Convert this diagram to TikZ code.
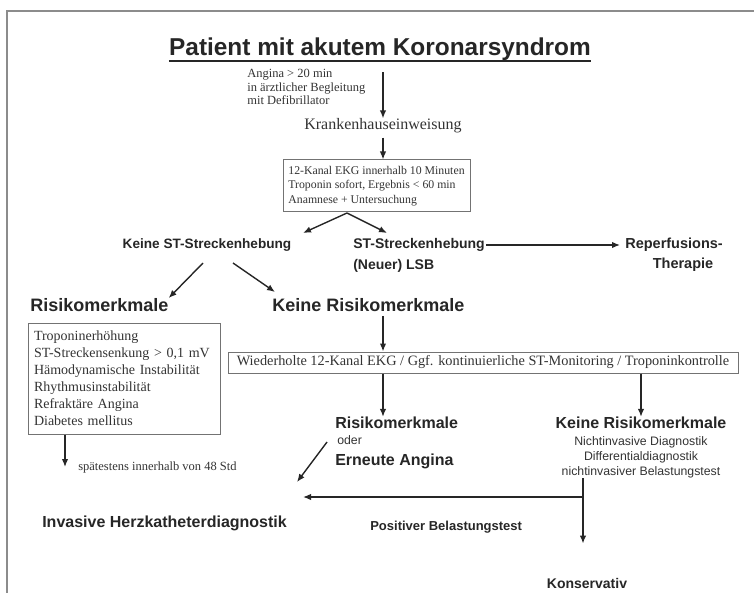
\documentclass[tikz,border=0pt]{standalone}
\usepackage{fontspec}
\setmainfont{Liberation Serif}
\setsansfont{Liberation Sans}
\usetikzlibrary{positioning, arrows.meta}

\begin{document}
\begin{tikzpicture}[x=1pt, y=-1pt, semithick,
    head/.style={font=\sffamily\bfseries\fontsize{14}{21}\selectfont, text=black!85, inner sep=0pt},
    big/.style={head, font=\sffamily\bfseries\fontsize{18}{21}\selectfont},
    mid/.style={head, font=\sffamily\bfseries\fontsize{16}{19}\selectfont},
    note/.style={font=\fontsize{12.5}{13.5}\selectfont, text=black!80, inner sep=0pt, align=left},
    small/.style={font=\sffamily\fontsize{12.3}{15}\selectfont, text=black!80, inner sep=0pt, align=center},
    infobox/.style={draw=black!55, line width=1pt, text=black!80, align=left, inner xsep=6pt},
    arr/.style={-{Latex[length=8pt, width=6.5pt]}, line width=1.4pt, black!85}]
  \useasboundingbox (0,0) rectangle (754,593);
  % frame
  \draw[black!45, line width=1.5pt] (754,11) -- (7,11) -- (7,593);

  \node[head, font=\sffamily\bfseries\fontsize{24.4}{26}\selectfont, anchor=base] (title) at (380,56) {Patient mit akutem Koronarsyndrom};
  \draw[black!85, line width=2pt] ([yshift=-5pt]title.base west) -- ([yshift=-5pt]title.base east);

  \node[note, anchor=north west] (angina) at (247,69) {Angina > 20 min\\in ärztlicher Begleitung\\mit Defibrillator};
  \node[font=\fontsize{16}{18}\selectfont, text=black!80, inner sep=0pt] (krank) at (383,126) {Krankenhauseinweisung};
  \node[infobox, font=\fontsize{11.8}{14.5}\selectfont, inner xsep=3pt, minimum width=187pt, minimum height=52pt] (ekg) at (376.5,186)
    {12-Kanal EKG innerhalb 10 Minuten\\Troponin sofort, Ergebnis < 60 min\\Anamnese + Untersuchung};

  \node[head, font=\sffamily\bfseries\fontsize{13.6}{16}\selectfont] (noST) at (207,245) {Keine ST-Streckenhebung};
  \node[head, anchor=west] (stST) at (353,245) {ST-Streckenhebung};
  \node[head, anchor=west] (lsb) at (353,266) {(Neuer) LSB};
  \node[head, font=\sffamily\bfseries\fontsize{14.5}{16}\selectfont, anchor=west] (reperf) at (625,245) {Reperfusions-};
  \node[head, font=\sffamily\bfseries\fontsize{14.5}{16}\selectfont] (therapie) at (683,265) {Therapie};

  \node[big, anchor=west] (riskL) at (30,305) {Risikomerkmale};
  \node[big, anchor=west] (noRisk) at (272,305) {Keine Risikomerkmale};
  \node[infobox, font=\fontsize{14}{17}\selectfont, text width=180pt, minimum height=111pt] (riskbox) at (124,378.5)
    {Troponinerhöhung\\ST-Streckensenkung > 0,1 mV\\Hämodynamische Instabilität\\Rhythmusinstabilität\\Refraktäre Angina\\Diabetes mellitus};
  \node[note, anchor=west] (spaet) at (78,467) {spätestens innerhalb von 48 Std};

  \node[infobox, font=\fontsize{14.3}{16}\selectfont, minimum width=510pt, minimum height=21pt, inner ysep=2pt, align=center] (wdh) at (483,362.5)
    {Wiederholte 12-Kanal EKG / Ggf. kontinuierliche ST-Monitoring / Troponinkontrolle};

  \node[mid, anchor=west] (risk2) at (335,423) {Risikomerkmale};
  \node[small, anchor=west] (oder) at (337,440) {oder};
  \node[mid, anchor=west] (angina2) at (335,461) {Erneute Angina};
  \node[mid] (noRisk2) at (641,423) {Keine Risikomerkmale};
  \node[small, below=7pt of noRisk2] (nichtinv) {Nichtinvasive Diagnostik\\Differentialdiagnostik\\nichtinvasiver Belastungstest};

  \node[mid, anchor=west] (invasiv) at (42,523) {Invasive Herzkatheterdiagnostik};
  \node[head, font=\sffamily\bfseries\fontsize{13}{15}\selectfont, anchor=west] (positiv) at (370,527) {Positiver Belastungstest};
  \node[head] (konserv) at (587,583) {Konservativ};

  % helper points
  \coordinate (split) at (347,213);
  \coordinate (knick) at (583,497);
  \coordinate (ziel) at (303,497);

  \draw[arr] (title.south -| krank) ++(0,11) -- (krank.north);
  \draw[arr] (krank.south) ++(0,4) -- (krank |- ekg.north);
  \draw[arr] (split) -- (303,233);
  \draw[arr] (split) -- (387,233);
  \draw[arr, shorten >=5pt, shorten <=1pt] (stST) -- (reperf);
  \draw[arr] (203,263) -- (riskL.north east);
  \draw[arr] (233,263) -- (275,292);
  \draw[arr] (riskbox.south -| 65,0) -- (65,0 |- spaet.west);
  \draw[arr] (noRisk.south -| krank) ++(0,4) -- (wdh.north -| krank);
  \draw[arr] (wdh.south -| krank) -- (krank |- risk2.north);
  \draw[arr] (wdh.south -| noRisk2) -- (noRisk2.north);
  \draw[arr] (327,442) -- (297,482);
  \draw[line width=1.4pt, black!85] (nichtinv.south -| knick) -- (knick);
  \draw[arr] (knick) -- (ziel);
  \draw[arr] (knick) -- ([yshift=34pt]konserv.north -| knick);
\end{tikzpicture}
\end{document}
